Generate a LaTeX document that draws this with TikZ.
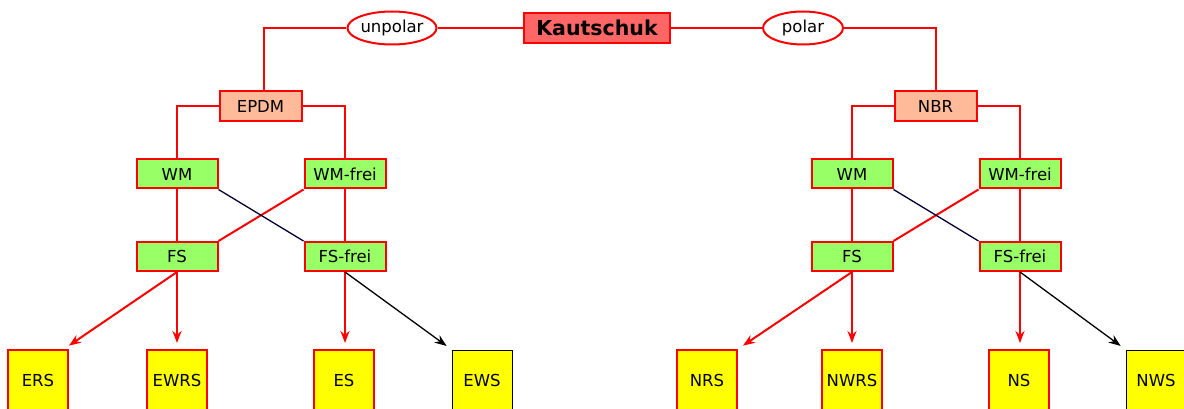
\documentclass[tikz,border=0pt]{standalone}
\usepackage{fontspec}
\setmainfont{DejaVu Sans}
\usetikzlibrary{arrows.meta,shapes.geometric,calc}
\definecolor{rootfill}{HTML}{FF6666}
\definecolor{midfill}{HTML}{FFBB99}
\definecolor{greenfill}{HTML}{99FF66}
\definecolor{leaffill}{HTML}{FFFF00}
\definecolor{navy}{HTML}{000033}
\tikzset{
  base/.style={font=\fontsize{16.5}{20}\selectfont, inner sep=0pt, align=center},
  rootbox/.style={base, draw=red, line width=2.2pt, fill=rootfill, minimum width=146pt, minimum height=30pt, font=\fontsize{20.5}{24}\selectfont\bfseries},
  oval/.style={base, ellipse, draw=red, line width=2pt, fill=white, minimum width=80pt, minimum height=33pt},
  midbox/.style={base, draw=red, line width=2pt, fill=midfill, minimum width=82pt, minimum height=30pt},
  gbox/.style={base, draw=red, line width=2pt, fill=greenfill, minimum width=81pt, minimum height=29pt},
  leafbox/.style={base, draw=red, line width=2pt, fill=leaffill, minimum width=60pt, minimum height=60pt},
  leafblack/.style={leafbox, draw=black, line width=1pt},
  rline/.style={draw=red, line width=2pt},
  bline/.style={draw=navy, line width=1.3pt},
  rarrow/.style={rline, -{Stealth[length=12pt,width=9pt]}, shorten >=6pt},
  barrow/.style={draw=black, line width=1.3pt, -{Stealth[length=12pt,width=9pt]}, shorten >=6pt},
}
\begin{document}
\begin{tikzpicture}[x=1pt,y=-1pt]
\useasboundingbox (0,0) rectangle (1184,409);
% top level
\node[rootbox] (K) at (597,28) {Kautschuk};
\node[oval] (up) at (392,28) {unpolar};
\node[oval] (po) at (803,28) {polar};
\node[midbox] (EPDM) at (260.5,106) {EPDM};
\node[midbox] (NBR) at (935.5,106) {NBR};
\coordinate (cl) at (264,28);
\coordinate (cr) at (936,28);
\draw[rline] (EPDM.north -| cl) -- (cl) -- (up.west);
\draw[rline] (up.east) -- (K.west);
\draw[rline] (K.east) -- (po.west);
\draw[rline] (po.east) -- (cr) -- (NBR.north -| cr);
% left group
\node[gbox] (WM1) at (177,174) {WM};
\node[gbox] (WF1) at (345,174) {WM-frei};
\node[gbox] (FS1) at (177,256.5) {FS};
\node[gbox] (FF1) at (345,256.5) {FS-frei};
\draw[rline] (EPDM.west) -| (WM1.north);
\draw[rline] (EPDM.east) -| (WF1.north);
\draw[rline] (WM1) -- (FS1);
\draw[rline] (WF1) -- (FF1);
\draw[rline] (WF1.south west) -- (FS1.north east);
\draw[bline] (WM1.south east) -- (FF1.north west);
% right group
\node[gbox] (WM2) at (852,174) {WM};
\node[gbox] (WF2) at (1020,174) {WM-frei};
\node[gbox] (FS2) at (852,256.5) {FS};
\node[gbox] (FF2) at (1020,256.5) {FS-frei};
\draw[rline] (NBR.west) -| (WM2.north);
\draw[rline] (NBR.east) -| (WF2.north);
\draw[rline] (WM2) -- (FS2);
\draw[rline] (WF2) -- (FF2);
\draw[rline] (WF2.south west) -- (FS2.north east);
\draw[bline] (WM2.south east) -- (FF2.north west);
% leaves
\node[leafbox] (ERS) at (38,380) {ERS};
\node[leafbox] (EWRS) at (177,380) {EWRS};
\node[leafbox] (ES) at (344,380) {ES};
\node[leafblack] (EWS) at (482,380) {EWS};
\node[leafbox] (NRS) at (707,380) {NRS};
\node[leafbox] (NWRS) at (852,380) {NWRS};
\node[leafbox] (NS) at (1019,380) {NS};
\node[leafblack] (NWS) at (1156,380) {NWS};
\coordinate (ersT) at ($(ERS.north east)+(-5,0)$);
\draw[rarrow] (FS1.south) -- (ersT);
\draw[rarrow] (FS1.south) -- (FS1.south |- EWRS.north);
\draw[rarrow] (FF1.south) -- (FF1.south |- ES.north);
\draw[barrow] (FF1.south) -- (EWS.north west);
\draw[rarrow] (FS2.south) -- (NRS.north east);
\draw[rarrow] (FS2.south) -- (FS2.south |- NWRS.north);
\draw[rarrow] (FF2.south) -- (FF2.south |- NS.north);
\draw[barrow] (FF2.south) -- (NWS.north west);
\end{tikzpicture}
\end{document}
